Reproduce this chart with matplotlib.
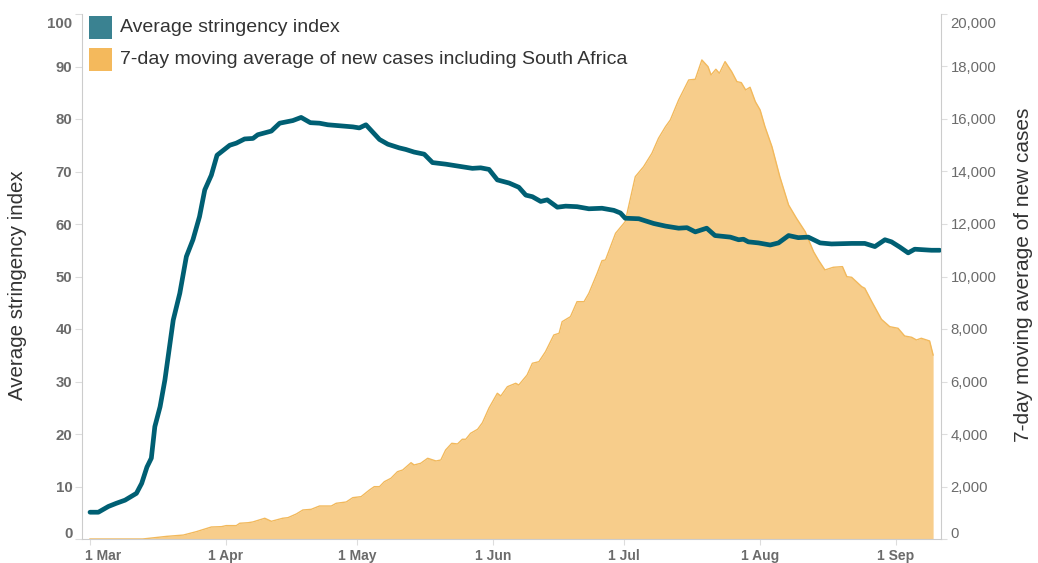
import matplotlib
matplotlib.use("Agg")
import matplotlib.pyplot as plt
import matplotlib.patches as mpatches
import matplotlib.transforms as mtrans
import numpy as np
import pandas as pd

plt.rcParams['font.family'] = ['Liberation Sans', 'DejaVu Sans']

# ---- data -------------------------------------------------------------
start = pd.Timestamp("2020-03-01")

stringency_days = [0, 1.9, 4.2, 6, 8, 10.6, 11.8, 13, 14, 14.8, 16, 17.1, 19, 20.5, 22,
                   23.5, 25, 26.2, 27.7, 29, 31.9, 33.4, 35.3, 37.2, 38.3, 41.4, 43.3,
                   46.3, 48.2, 50.3, 52.4, 54.3, 60, 61.5, 63, 66.1, 68, 70.6, 72.1, 74,
                   76.3, 78.2, 81.2, 85, 87.3, 89.2, 91.1, 93, 95.7, 97.9, 99.5, 101,
                   102.9, 104.4, 106.7, 108.6, 111.2, 113.9, 116.9, 119.6, 121.1, 122.2,
                   125.3, 128.7, 131.4, 134.4, 136.3, 138.2, 140.8, 142.7, 146.2, 148.1,
                   149.2, 150.3, 152.6, 155.3, 157.2, 159.5, 161.7, 164, 166.7, 169.3,
                   173.9, 176.9, 179.2, 181.5, 183, 184.9, 186.8, 188.3, 192.1, 194]
stringency = [5.1, 5.1, 6.2, 6.8, 7.4, 8.7, 10.6, 13.7, 15.4, 21.4, 25.2, 30.3, 41.7, 46.8, 53.8,
              57, 61.4, 66.5, 69.3, 73.1, 75, 75.4, 76.2, 76.3, 77, 77.7, 79.2,
              79.7, 80.3, 79.3, 79.2, 78.9, 78.5, 78.3, 78.9, 76.1, 75.2, 74.5, 74.2, 73.7,
              73.3, 71.7, 71.4, 70.9, 70.6, 70.7, 70.4, 68.4, 67.8, 67, 65.5, 65.2,
              64.3, 64.6, 63.2, 63.4, 63.3, 62.9, 63, 62.6, 62.1, 61.1,
              61, 60.1, 59.6, 59.2, 59.3, 58.5, 59.2, 57.8, 57.5, 57,
              57.1, 56.6, 56.4, 56, 56.4, 57.8, 57.4, 57.5, 56.4, 56.2,
              56.3, 56.3, 55.7, 57, 56.6, 55.6, 54.5, 55.2, 55, 55]

cases_days = [0, 12, 17.5, 21.3, 24.3, 27.7, 30, 31.1, 33.4, 34.2,
              36.1, 37.2, 39.9, 41.4, 44, 45.2, 47.1, 48.6, 50.5, 52.4,
              55.1, 56.2, 58.5, 60, 61.9, 63.8, 64.9, 66.1, 67.2, 68.7,
              70.2, 71.4, 73.3, 74, 75.5, 77.1, 79, 80.1, 81.2, 82.6,
              83.9, 85, 85.8, 86.9, 88.5, 89.6, 91.1, 93, 93.8, 95.3,
              97.2, 97.9, 99.8, 101, 102.5, 104, 105.9, 107.1, 107.8, 109.7,
              111.2, 112.8, 113.9, 115.8, 116.9, 117.7, 120, 122.2, 124.5, 126.4,
              128.3, 129.8, 131.4, 132.5, 134.4, 136.7, 138.2, 139.7, 141.1, 141.8,
              142.9, 143.7, 145, 146.5, 147.7, 148.7, 149.7, 150.7, 151.9, 153,
              154.1, 155.7, 157.5, 159.5, 161.3, 163.3, 165.2, 166.3, 167.8, 169.7,
              171.8, 172.8, 173.9, 176.2, 176.9, 178.5, 180.7, 182.6, 184.5, 186,
              187.6, 188.7, 189.8, 191.7, 192.5]
cases = [0, 0, 100, 150, 280, 457, 470, 510, 510, 600,
         620, 650, 790, 674, 790, 813, 953, 1105, 1130, 1257,
         1257, 1360, 1410, 1575, 1613, 1867, 1994, 1994, 2183, 2312,
         2564, 2629, 2907, 2820, 2884, 3075, 2972, 3010, 3391, 3646,
         3620, 3799, 3799, 4027, 4180, 4431, 4990, 5551, 5448, 5802,
         5932, 5867, 6248, 6694, 6755, 7136, 7772, 7836, 8279, 8470,
         9041, 9041, 9360, 10122, 10603, 10630, 11647, 12089, 13803, 14185,
         14695, 15266, 15709, 15964, 16726, 17488, 17514, 18250, 17995, 17678,
         17895, 17742, 18186, 17805, 17425, 17386, 17107, 17209, 16663, 16345,
         15710, 14947, 13803, 12726, 12219, 11708, 10946, 10630, 10249, 10351,
         10376, 9994, 9969, 9613, 9552, 9041, 8370, 8089, 8027, 7734,
         7684, 7582, 7647, 7544, 7010]

tick_dates = ["2020-03-01", "2020-04-01", "2020-05-01", "2020-06-01",
              "2020-07-01", "2020-08-01", "2020-09-01"]
tick_labels = ["1 Mar", "1 Apr", "1 May", "1 Jun", "1 Jul", "1 Aug", "1 Sep"]
left_ticks = [0, 10, 20, 30, 40, 50, 60, 70, 80, 90, 100]
right_ticks = [0, 2000, 4000, 6000, 8000, 10000, 12000, 14000, 16000, 18000, 20000]

series_names = ["Average stringency index",
                "7-day moving average of new cases including South Africa"]

# ---- styling ----------------------------------------------------------
LINE_C = "#005f73"
LEG_TEAL = "#3a8291"
FILL_C = "#f7cd8b"
EDGE_C = "#f2b95c"
LEG_ORANGE = "#f4b95c"
GRAY_TXT = "#6b6b6b"
AXIS_C = "#cccccc"

W, H = 1038, 563
fig = plt.figure(figsize=(W / 100, H / 100), dpi=100)
x0, x1, y0, y1 = 82, 941, 14, 539
ax = fig.add_axes([x0 / W, 1 - y1 / H, (x1 - x0) / W, (y1 - y0) / H])
ax2 = ax.twinx()

s_dates = start + pd.to_timedelta(stringency_days, unit="D")
c_dates = start + pd.to_timedelta(cases_days, unit="D")

ax2.fill_between(c_dates, 0, cases, color=FILL_C, linewidth=0, zorder=1)
ax2.plot(c_dates, cases, color=EDGE_C, linewidth=1.0, zorder=2)
ax.plot(s_dates, stringency, color=LINE_C, linewidth=3.4, solid_capstyle="round",
        solid_joinstyle="round", zorder=3)

ax.set_zorder(ax2.get_zorder() + 1)
ax.patch.set_visible(False)

xmin = start - pd.Timedelta(days=1.83)
xmax = start + pd.Timedelta(days=194.3)
ax.set_xlim(xmin, xmax)
ax.set_ylim(0, 100)
ax2.set_ylim(0, 20000)

for a in (ax, ax2):
    for sp in a.spines.values():
        sp.set_visible(False)

ax.spines["left"].set_visible(True)
ax.spines["left"].set_color(AXIS_C)
ax.spines["bottom"].set_visible(True)
ax.spines["bottom"].set_color(AXIS_C)
ax2.spines["right"].set_visible(True)
ax2.spines["right"].set_color(AXIS_C)

def shift(lab, dx, dy):
    lab.set_transform(lab.get_transform() +
                      mtrans.ScaledTranslation(dx / 100, dy / 100, fig.dpi_scale_trans))

ax.set_xticks(pd.to_datetime(tick_dates))
ax.set_xticklabels(tick_labels, fontsize=10, fontweight="bold", color=GRAY_TXT)
ax.tick_params(axis="x", length=4, color="#dddddd", pad=3)
first = ax.get_xticklabels()[0]
first.set_horizontalalignment("left")
shift(first, -5, 0)

ax.set_yticks(left_ticks)
ax.set_yticklabels([str(v) for v in left_ticks], fontsize=10.8, fontweight="bold", color=GRAY_TXT)
ax.tick_params(axis="y", length=5, color="#dddddd", pad=2)
ylabs = ax.get_yticklabels()
shift(ylabs[0], 0, 7)
shift(ylabs[-1], 0, -8)

ax2.set_yticks(right_ticks)
ax2.set_yticklabels([f"{v:,}" for v in right_ticks], fontsize=10.7, color=GRAY_TXT)
ax2.tick_params(axis="y", length=4, color="#dddddd", pad=3)
rlabs = ax2.get_yticklabels()
shift(rlabs[0], 0, 7)
shift(rlabs[-1], 0, -8)

# axis titles
fig.text(18 / W, 1 - 285 / H, series_names[0], rotation=90, ha="center", va="center",
         fontsize=14.8, color="#333333")
fig.text(1014 / W, 1 - 275 / H, "7-day moving average of new cases", rotation=90,
         ha="left", va="center", fontsize=15, color="#333333")

# legend
for i, (name, col) in enumerate(zip(series_names, [LEG_TEAL, LEG_ORANGE])):
    top = 16 + i * 32
    fig.patches.append(mpatches.Rectangle((89 / W, 1 - (top + 23) / H), 23 / W, 23 / H,
                                          transform=fig.transFigure, facecolor=col,
                                          edgecolor="none", zorder=10))
    fig.text(120 / W, 1 - (top + 11.5) / H, name, ha="left", va="center",
             fontsize=14, color="#333333", zorder=10)

fig.savefig("out.png", dpi=100)
